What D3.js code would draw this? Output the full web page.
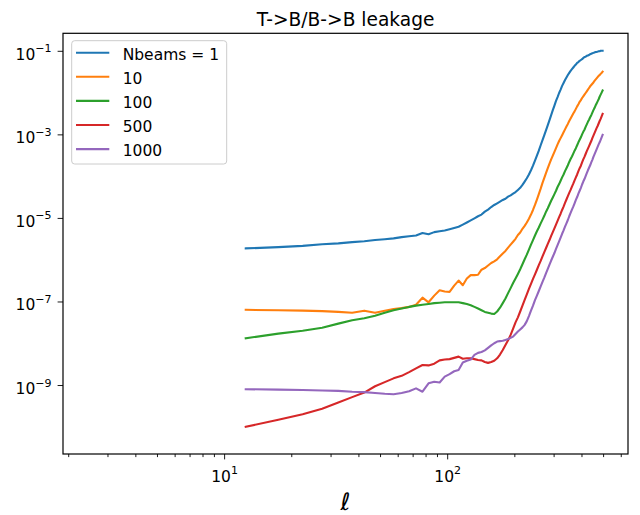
<!DOCTYPE html>
<html>
<head>
<meta charset="utf-8">
<script src="https://cdn.jsdelivr.net/npm/d3@7/dist/d3.min.js"></script>
<style>
  html, body { margin: 0; padding: 0; background: #fff; }
  svg { display: block; }
  text { font-family: "DejaVu Sans", sans-serif; fill: #000; }
</style>
</head>
<body>
<svg id="chart" width="640" height="515"></svg>
<script>
// Multipole bin centres
const ell = [12.5,17.5,22.5,27.5,32.5,37.5,42.5,47.5,52.5,57.5,62.5,67.5,72.5,77.5,82.5,87.5,92.5,97.5,
  102.5,107.5,112.5,117.5,122.5,127.5,132.5,137.5,142.5,147.5,152.5,157.5,162.5,167.5,172.5,177.5,182.5,187.5,192.5,197.5,
  202.5,207.5,212.5,217.5,222.5,227.5,232.5,237.5,242.5,247.5,252.5,257.5,262.5,267.5,272.5,277.5,282.5,287.5,292.5,297.5,
  302.5,307.5,312.5,317.5,322.5,327.5,332.5,337.5,342.5,347.5,352.5,357.5,362.5,367.5,372.5,377.5,382.5,387.5,392.5,397.5,
  402.5,407.5,412.5,417.5,422.5,427.5,432.5,437.5,442.5,447.5,452.5,457.5,462.5,467.5,472.5,477.5,482.5,487.5,492.5,497.5];

// Leakage per bin, stored as log10 of the ratio, one array per beam count
const log10Nb1 = [-5.73,-5.70,-5.67,-5.63,-5.61,-5.58,-5.56,-5.53,-5.51,-5.49,-5.46,-5.44,-5.42,-5.36,-5.39,-5.34,-5.32,-5.30,
  -5.27,-5.24,-5.21,-5.16,-5.11,-5.06,-5.01,-4.96,-4.92,-4.85,-4.80,-4.74,-4.69,-4.65,-4.61,-4.57,-4.54,-4.49,-4.46,-4.42,-4.38,-4.33,-4.28,-4.21,-4.13,
  -4.05,-3.96,-3.86,-3.75,-3.63,-3.51,-3.39,-3.26,-3.14,-3.02,-2.90,-2.78,-2.66,-2.54,-2.42,-2.31,-2.20,-2.11,-2.01,-1.93,
  -1.84,-1.77,-1.70,-1.64,-1.58,-1.53,-1.48,-1.44,-1.40,-1.36,-1.33,-1.29,-1.27,-1.24,-1.22,-1.20,-1.17,-1.15,-1.14,-1.12,
  -1.11,-1.10,-1.08,-1.07,-1.06,-1.05,-1.04,-1.03,-1.03,-1.02,-1.01,-1.01,-1.00,-1.00,-1.00];
const log10Nb10 = [-7.20,-7.21,-7.22,-7.23,-7.25,-7.27,-7.22,-7.27,-7.22,-7.18,-7.16,-7.13,-7.08,-6.91,-7.02,-6.86,-6.73,-6.76,
  -6.77,-6.62,-6.50,-6.61,-6.45,-6.37,-6.37,-6.36,-6.24,-6.20,-6.14,-6.08,-6.04,-5.99,-5.92,-5.85,-5.79,-5.71,-5.64,-5.57,
  -5.50,-5.41,-5.35,-5.26,-5.19,-5.11,-5.02,-4.92,-4.81,-4.69,-4.56,-4.43,-4.30,-4.16,-4.04,-3.92,-3.81,-3.70,-3.60,-3.51,
  -3.42,-3.33,-3.24,-3.16,-3.09,-3.02,-2.95,-2.88,-2.81,-2.75,-2.68,-2.62,-2.56,-2.50,-2.45,-2.39,-2.33,-2.28,-2.22,-2.18,
  -2.13,-2.09,-2.05,-2.01,-1.97,-1.93,-1.89,-1.85,-1.82,-1.79,-1.76,-1.72,-1.69,-1.66,-1.63,-1.60,-1.58,-1.55,-1.53,-1.50];
const log10Nb100 = [-7.88,-7.77,-7.70,-7.63,-7.53,-7.45,-7.40,-7.34,-7.27,-7.21,-7.17,-7.13,-7.10,-7.08,-7.06,-7.04,-7.03,-7.02,
  -7.02,-7.02,-7.02,-7.04,-7.06,-7.09,-7.13,-7.17,-7.21,-7.25,-7.27,-7.29,-7.30,-7.24,-7.15,-7.04,-6.93,-6.80,-6.68,-6.56,
  -6.45,-6.34,-6.23,-6.11,-5.99,-5.88,-5.76,-5.64,-5.53,-5.42,-5.32,-5.23,-5.13,-5.04,-4.95,-4.85,-4.77,-4.68,-4.59,-4.51,
  -4.43,-4.35,-4.26,-4.19,-4.11,-4.03,-3.96,-3.88,-3.81,-3.74,-3.66,-3.59,-3.53,-3.46,-3.39,-3.33,-3.26,-3.19,-3.13,-3.07,
  -3.00,-2.94,-2.89,-2.82,-2.76,-2.70,-2.65,-2.59,-2.54,-2.48,-2.42,-2.37,-2.31,-2.26,-2.21,-2.16,-2.10,-2.05,-2.00,-1.95];
const log10Nb500 = [-10.00,-9.83,-9.70,-9.57,-9.42,-9.29,-9.18,-9.03,-8.93,-8.84,-8.78,-8.69,-8.60,-8.52,-8.53,-8.49,-8.41,-8.39,
  -8.38,-8.35,-8.32,-8.37,-8.36,-8.36,-8.38,-8.40,-8.41,-8.45,-8.47,-8.45,-8.42,-8.36,-8.27,-8.16,-8.04,-7.93,-7.80,-7.65,
  -7.50,-7.38,-7.24,-7.10,-6.96,-6.83,-6.70,-6.58,-6.46,-6.35,-6.24,-6.13,-6.03,-5.92,-5.82,-5.72,-5.62,-5.53,-5.43,-5.34,
  -5.25,-5.16,-5.07,-4.98,-4.90,-4.81,-4.73,-4.64,-4.56,-4.48,-4.40,-4.33,-4.25,-4.18,-4.10,-4.03,-3.96,-3.88,-3.81,-3.75,
  -3.67,-3.60,-3.54,-3.47,-3.40,-3.34,-3.28,-3.22,-3.16,-3.09,-3.03,-2.97,-2.91,-2.85,-2.80,-2.74,-2.68,-2.63,-2.57,-2.51];
const log10Nb1000 = [-9.10,-9.11,-9.12,-9.13,-9.14,-9.16,-9.17,-9.19,-9.21,-9.22,-9.19,-9.15,-9.08,-9.16,-8.96,-8.92,-8.94,-8.80,
  -8.74,-8.67,-8.64,-8.46,-8.42,-8.39,-8.28,-8.23,-8.21,-8.17,-8.11,-8.05,-8.00,-7.96,-7.95,-7.94,-7.92,-7.90,-7.87,-7.84,
  -7.78,-7.72,-7.67,-7.62,-7.56,-7.47,-7.35,-7.22,-7.10,-6.97,-6.86,-6.75,-6.64,-6.53,-6.43,-6.32,-6.22,-6.12,-6.02,-5.93,
  -5.84,-5.74,-5.65,-5.56,-5.47,-5.38,-5.30,-5.21,-5.13,-5.05,-4.96,-4.88,-4.80,-4.73,-4.65,-4.57,-4.50,-4.42,-4.35,-4.28,
  -4.20,-4.13,-4.07,-4.00,-3.93,-3.86,-3.80,-3.74,-3.67,-3.61,-3.54,-3.48,-3.42,-3.36,-3.30,-3.24,-3.19,-3.13,-3.07,-3.01];

const seriesLabels = ["Nbeams = 1", "10", "100", "500", "1000"];
const seriesColors = ["#1f77b4", "#ff7f0e", "#2ca02c", "#d62728", "#9467bd"];
const seriesLog = [log10Nb1, log10Nb10, log10Nb100, log10Nb500, log10Nb1000];

const xMajorTicks = [10, 100];
const xMinorTicks = [2,3,4,5,6,7,8,9,20,30,40,50,60,70,80,90,200,300,400,500,600];
const yMajorTicks = [1e-1, 1e-3, 1e-5, 1e-7, 1e-9];

const titleText = "T->B/B->B leakage";
const xLabelText = "\u2113";

// Frame geometry
const W = 640, H = 515;
const plot = { left: 63, right: 628, top: 33.3, bottom: 454 };

const svg = d3.select("#chart");
svg.append("rect").attr("width", W).attr("height", H).attr("fill", "#fff");

const x = d3.scaleLog()
  .domain([Math.pow(10, 0.2777), Math.pow(10, 2.8106)])
  .range([plot.left, plot.right]);
const y = d3.scaleLog()
  .domain([Math.pow(10, -10.651), Math.pow(10, -0.581)])
  .range([plot.bottom, plot.top]);

// Series lines
const line = d3.line().x(d => x(d[0])).y(d => y(d[1]));
const linesG = svg.append("g");
seriesLog.forEach((arr, i) => {
  const pts = ell.map((l, k) => [l, Math.pow(10, arr[k])]).filter(d => isFinite(d[1]));
  linesG.append("path")
    .attr("d", line(pts))
    .attr("fill", "none")
    .attr("stroke", seriesColors[i])
    .attr("stroke-width", 2.1)
    .attr("stroke-linejoin", "round")
    .attr("stroke-linecap", "square");
});

// Power-of-ten label with a raised exponent
function powLabel(sel, v) {
  const e = Math.round(Math.log10(v));
  sel.text(null);
  sel.append("tspan").text("10");
  sel.append("tspan")
    .attr("dy", -7.5)
    .attr("font-size", 11)
    .text(String(e).replace("-", "\u2212"));
}

// Bottom axis
const xAxis = d3.axisBottom(x).tickValues(xMajorTicks).tickSize(5.4).tickPadding(5).tickFormat(() => "");
const xAxisG = svg.append("g").attr("transform", `translate(0,${plot.bottom})`).call(xAxis);
const xMinorAxis = d3.axisBottom(x).tickValues(xMinorTicks).tickSize(3.1).tickFormat(() => "");
const xMinorG = svg.append("g").attr("transform", `translate(0,${plot.bottom})`).call(xMinorAxis);
[xAxisG, xMinorG].forEach(g => {
  g.select(".domain").remove();
  g.selectAll(".tick line").attr("stroke", "#000").attr("stroke-width", 0.9);
});
xAxisG.selectAll(".tick text").remove();
xAxisG.selectAll(".tick").each(function(d) {
  const t = d3.select(this).append("text")
    .attr("x", 0).attr("y", 27.5)
    .attr("text-anchor", "middle")
    .attr("font-size", 15.5);
  powLabel(t, d);
});

// Left axis
const yAxis = d3.axisLeft(y).tickValues(yMajorTicks).tickSize(5.4).tickFormat(() => "");
const yAxisG = svg.append("g").attr("transform", `translate(${plot.left},0)`).call(yAxis);
yAxisG.select(".domain").remove();
yAxisG.selectAll(".tick line").attr("stroke", "#000").attr("stroke-width", 0.9);
yAxisG.selectAll(".tick text").remove();
yAxisG.selectAll(".tick").each(function(d) {
  const t = d3.select(this).append("text")
    .attr("x", -11.5).attr("y", 8.5)
    .attr("text-anchor", "end")
    .attr("font-size", 15.5);
  powLabel(t, d);
});

// Frame
svg.append("rect")
  .attr("x", plot.left).attr("y", plot.top)
  .attr("width", plot.right - plot.left).attr("height", plot.bottom - plot.top)
  .attr("fill", "none").attr("stroke", "#000").attr("stroke-width", 1.2);

// Title and axis label
svg.append("text")
  .attr("x", (plot.left + plot.right) / 2).attr("y", 26)
  .attr("text-anchor", "middle").attr("font-size", 18.6)
  .text(titleText);
svg.append("text")
  .attr("x", (plot.left + plot.right) / 2).attr("y", 510)
  .attr("text-anchor", "middle").attr("font-size", 24)
  .attr("font-style", "italic")
  .text(xLabelText);

// Legend
const legend = svg.append("g");
const lg = { x: 71.7, y: 40.7, w: 155, h: 123.3, row0: 52.7, rowStep: 24.1 };
legend.append("rect")
  .attr("x", lg.x).attr("y", lg.y).attr("width", lg.w).attr("height", lg.h)
  .attr("rx", 3).attr("ry", 3)
  .attr("fill", "#fff").attr("fill-opacity", 0.8)
  .attr("stroke", "#cccccc").attr("stroke-width", 1);
seriesLabels.forEach((lab, i) => {
  const ry = lg.row0 + i * lg.rowStep;
  legend.append("line")
    .attr("x1", 76).attr("x2", 109.3).attr("y1", ry).attr("y2", ry)
    .attr("stroke", seriesColors[i]).attr("stroke-width", 2.1);
  legend.append("text")
    .attr("x", 122.7).attr("y", ry + 6.8)
    .attr("font-size", 15.5)
    .text(lab);
});
</script>
</body>
</html>
